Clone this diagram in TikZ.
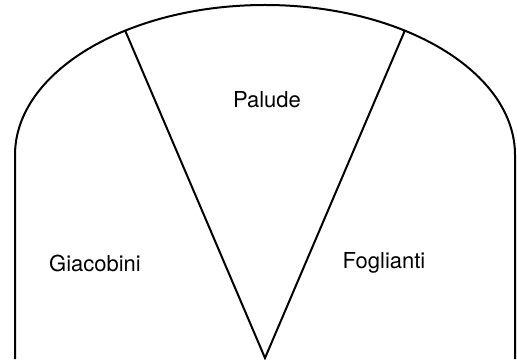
\documentclass[tikz,border=0pt]{standalone}
\usepackage{fontspec}
\setmainfont{TeX Gyre Heros}
\usepackage{tikz}
\usetikzlibrary{calc}

\begin{document}
\begin{tikzpicture}[x=0.5pt,y=0.5pt,line width=1pt]
\useasboundingbox (0,0) rectangle (517,359);
\coordinate (cC) at (265,204);
\coordinate (cL) at (15,204);
\coordinate (cR) at (515,204);
\coordinate (cA) at ($(cC)+(124:250 and 150)$);
\coordinate (cB) at ($(cC)+(56:250 and 150)$);
\coordinate (cV) at (265,1);
\draw (15,0) -- (cL) arc[start angle=180,end angle=0,x radius=250,y radius=150] -- (515,0);
\draw (cA) -- (cV) -- (cB);
\node[font=\fontsize{11}{13}\selectfont] (pal) at (267,259) {Palude};
\node[font=\fontsize{11}{13}\selectfont] (gia) at (95,96) {Giacobini};
\node[font=\fontsize{11}{13}\selectfont] (fog) at (384,96) {Foglianti};
\end{tikzpicture}
\end{document}
